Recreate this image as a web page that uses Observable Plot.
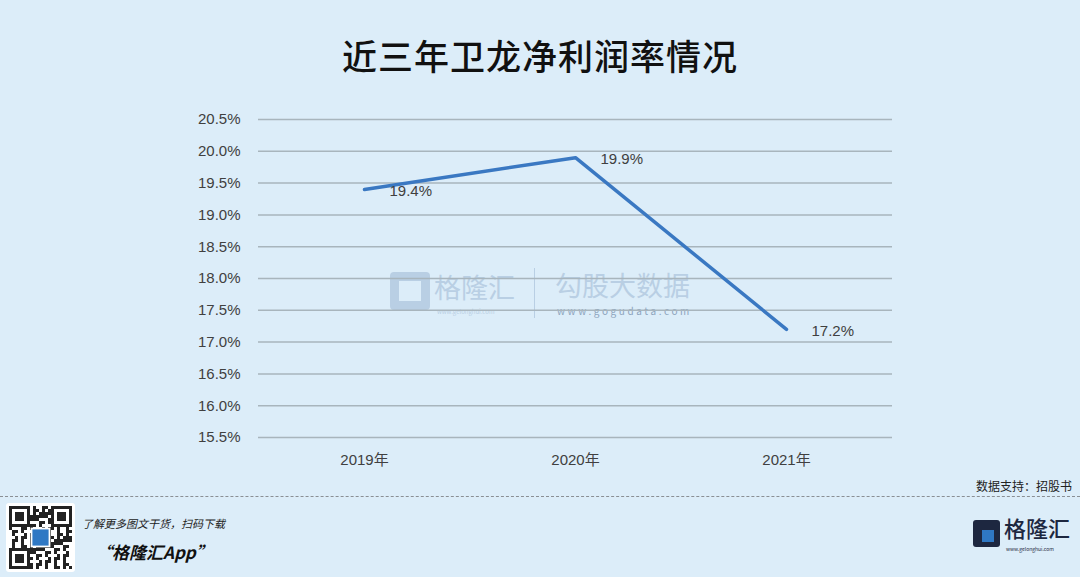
<!DOCTYPE html>
<html>
<head>
<meta charset="utf-8">
<script src="https://cdn.jsdelivr.net/npm/d3@7"></script>
<script src="https://cdn.jsdelivr.net/npm/@observablehq/plot@0.6"></script>
<style>
  html, body { margin: 0; padding: 0; background: #dcedf9; }
  #wrap { position: relative; width: 1080px; height: 577px; background: #dcedf9; overflow: hidden;
          font-family: "Noto Sans CJK SC", "Liberation Sans", sans-serif; }
  #wrap div { line-height: 1; }
  #title { position: absolute; left: 0; top: 37px; width: 1080px; text-align: center;
           font-size: 35px; font-weight: 500; color: #111; letter-spacing: 1px; }
  #plot { position: absolute; left: 0; top: 90px; }
  .wm { position: absolute; color: #b9cfe4; white-space: nowrap; }
  #source { position: absolute; right: 8px; top: 480px; font-size: 12px; color: #222; }
  #dash { position: absolute; left: 0; top: 496px; width: 1080px; border-top: 1px dashed #8a8f94; }
  #qr { position: absolute; left: 6px; top: 503px; width: 69px; height: 69px; background: #fff; border-radius: 3px; }
  #hint { position: absolute; left: 82px; top: 518px; font-size: 11px; font-style: italic; color: #222; }
  #app { position: absolute; left: 95px; top: 543px; font-size: 17px; font-weight: bold; font-style: italic; color: #111; }
  #logoG { position: absolute; left: 973px; top: 520px; width: 27px; height: 27px; background: #1d2740; border-radius: 3px; }
  #logoG2 { position: absolute; left: 982px; top: 530px; width: 12px; height: 12px; background: #2f78c4; }
  #logoT { position: absolute; left: 1004px; top: 516px; font-size: 22px; font-weight: 500; color: #1d2740; }
  #logoU { position: absolute; left: 1006px; top: 546px; font-size: 5px; color: #1d2740; }
</style>
</head>
<body>
<div id="wrap">
  <div id="title">近三年卫龙净利润率情况</div>
  <div class="wm" style="left:390px;top:272px;width:40px;height:38px;border:9px solid #b9cfe4;box-sizing:border-box;border-radius:4px;"></div>
  <div class="wm" style="left:434px;top:273px;font-size:27px;">格隆汇</div>
  <div class="wm" style="left:437px;top:309px;font-size:6px;">www.gelonghui.com</div>
  <div class="wm" style="left:534px;top:268px;width:1px;height:50px;background:#b9cfe4;"></div>
  <div class="wm" style="left:555px;top:271px;font-size:27px;">勾股大数据</div>
  <div class="wm" style="left:557px;top:306px;font-size:10px;letter-spacing:2.6px;color:#8da4bd;">www.gogudata.com</div>
  <div id="plot"></div>
  <div id="source">数据支持：招股书</div>
  <div id="dash"></div>
  <svg id="qr" viewBox="0 0 23 23"></svg>
  <div id="hint">了解更多图文干货，扫码下载</div>
  <div id="app">“格隆汇App”</div>
  <div id="logoG"></div><div id="logoG2"></div>
  <div id="logoT">格隆汇</div>
  <div id="logoU">www.gelonghui.com</div>
</div>
<script>
const years = ["2019年", "2020年", "2021年"];
const margins = [19.4, 19.9, 17.2];
const yTicks = [15.5, 16.0, 16.5, 17.0, 17.5, 18.0, 18.5, 19.0, 19.5, 20.0, 20.5];

const data = years.map((y, i) => ({year: y, value: margins[i]}));
const fontStack = "'Liberation Sans', 'Noto Sans CJK SC', sans-serif";

const chart = Plot.plot({
  width: 1080,
  height: 390,
  marginLeft: 258,
  marginRight: 188,
  marginTop: 29,
  marginBottom: 43,
  style: {background: "transparent", fontFamily: fontStack, fontSize: "15px", color: "#404040"},
  x: {type: "point", domain: years, padding: 0.5, label: null},
  y: {domain: [15.5, 20.5], label: null},
  marks: [
    Plot.gridY(yTicks, {stroke: "#a8b5bd", strokeOpacity: 1, strokeWidth: 1.5}),
    Plot.axisY(yTicks, {tickSize: 0, tickPadding: 18, tickFormat: d => d.toFixed(1) + "%", fontSize: 15, fill: "#404040", label: null}),
    Plot.axisX({tickSize: 0, tickPadding: 17, fontSize: 15, fill: "#404040", label: null}),
    Plot.line(data, {x: "year", y: "value", stroke: "#3a78c2", strokeWidth: 3.5}),
    Plot.text(data, {x: "year", y: "value", text: d => d.value.toFixed(1) + "%", textAnchor: "start", dx: 25, dy: 2, fontSize: 15, fill: "#404040"})
  ]
});
document.getElementById("plot").appendChild(chart);

// simple QR-like decoration
const qr = d3.select("#qr");
const seed = "10110100111010010110101100101101001011010011101001011011001011010010110100111010010110101100101101001011010011101001011011001011010010110100111010010110101100101101001011010011101001011011001011010010110100111010010110101100";
for (let r = 1; r < 22; r++) for (let c = 1; c < 22; c++) {
  if (seed[(r * 21 + c * 7) % seed.length] === "1") qr.append("rect").attr("x", c).attr("y", r).attr("width", 1).attr("height", 1).attr("fill", "#222");
}
[[1,1],[15,1],[1,15]].forEach(([x,y]) => {
  qr.append("rect").attr("x", x).attr("y", y).attr("width", 7).attr("height", 7).attr("fill", "#fff");
  qr.append("rect").attr("x", x+0.5).attr("y", y+0.5).attr("width", 6).attr("height", 6).attr("fill", "none").attr("stroke", "#222");
  qr.append("rect").attr("x", x+2).attr("y", y+2).attr("width", 3).attr("height", 3).attr("fill", "#222");
});
qr.append("rect").attr("x", 8.5).attr("y", 8.5).attr("width", 6).attr("height", 6).attr("fill", "#2f78c4").attr("stroke", "#fff").attr("stroke-width", 0.6);
</script>
</body>
</html>
